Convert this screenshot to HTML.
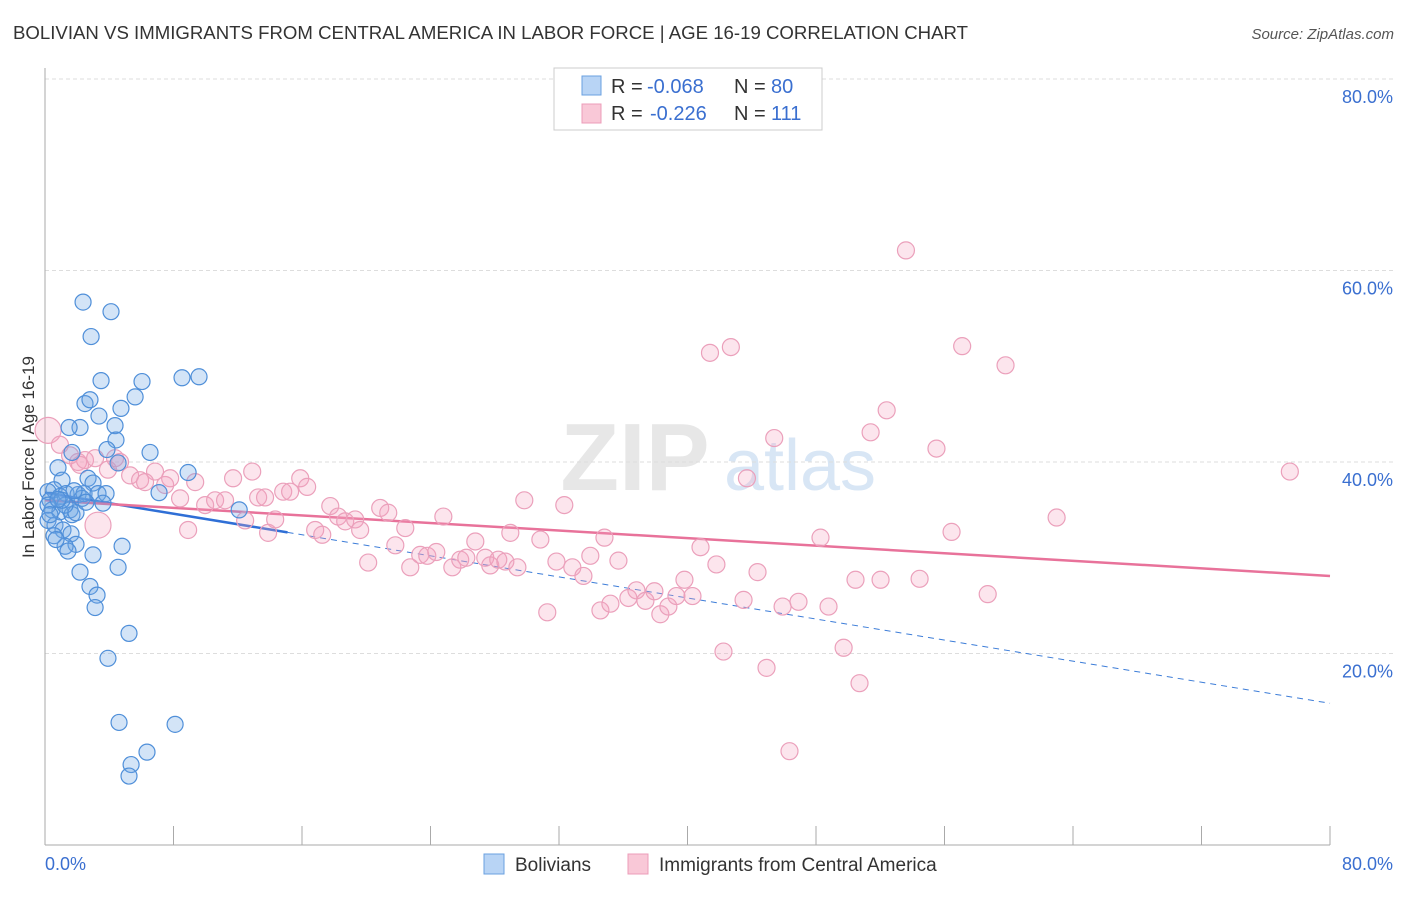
<!DOCTYPE html>
<html><head><meta charset="utf-8"><style>
body{margin:0;background:#fff;font-family:"Liberation Sans",sans-serif;}
svg text{font-family:"Liberation Sans",sans-serif;}
</style></head><body>
<svg id="chart" width="1406" height="892" xmlns="http://www.w3.org/2000/svg">
<text x="13" y="39" font-size="18" fill="#333" textLength="955" lengthAdjust="spacingAndGlyphs">BOLIVIAN VS IMMIGRANTS FROM CENTRAL AMERICA IN LABOR FORCE | AGE 16-19 CORRELATION CHART</text>
<text x="1394" y="39" font-size="15" fill="#555" text-anchor="end" font-style="italic">Source: ZipAtlas.com</text>
<g>
<text x="635" y="490" font-size="96" fill="#ddd" font-family="Liberation Serif" text-anchor="middle" font-weight="bold" opacity="0.7">ZIP</text>
<text x="800" y="490" font-size="72" fill="#cfe0f3" text-anchor="middle" opacity="0.8">atlas</text>
</g>
<g id="grid"></g>
<g id="axes"></g>
<g id="trends"></g>
<g id="points"></g>
<text transform="translate(34,457) rotate(-90)" font-size="17" fill="#333" text-anchor="middle">In Labor Force | Age 16-19</text>
<g>
<rect x="554" y="68" width="268" height="62" fill="#fff" stroke="#ccc"/>
<rect x="582" y="76" width="19" height="19" fill="#b8d4f5" stroke="#6aa0e0"/>
<rect x="582" y="104" width="19" height="19" fill="#f9c8d7" stroke="#ec9cb8"/>
<text x="611" y="93" font-size="20" fill="#333">R =</text>
<text x="647" y="93" font-size="20" fill="#3a6fd0">-0.068</text>
<text x="734" y="93" font-size="20" fill="#333">N =</text>
<text x="771" y="93" font-size="20" fill="#3a6fd0">80</text>
<text x="611" y="120" font-size="20" fill="#333">R =</text>
<text x="650" y="120" font-size="20" fill="#3a6fd0">-0.226</text>
<text x="734" y="120" font-size="20" fill="#333">N =</text>
<text x="771" y="120" font-size="20" fill="#3a6fd0">111</text>
</g>
<g>
<rect x="484" y="854" width="20" height="20" fill="#b8d4f5" stroke="#6aa0e0"/>
<text x="515" y="871" font-size="19" fill="#333">Bolivians</text>
<rect x="628" y="854" width="20" height="20" fill="#f9c8d7" stroke="#ec9cb8"/>
<text x="659" y="871" font-size="19" fill="#333">Immigrants from Central America</text>
</g>
</svg>
<script>
const yTicks=[20,40,60,80];
const yTickLabels=["20.0%","40.0%","60.0%","80.0%"];
const xTicks=[0,8,16,24,32,40,48,56,64,72,80];
const bolX=[2.37,4.11,2.87,3.49,6.04,8.53,9.59,5.61,4.73,2.49,2.80,3.36,2.18,1.50,4.36,4.42,6.54,3.86,1.68,0.81,8.91,4.55,1.06,2.68,2.99,0.56,0.93,0.19,0.31,1.31,2.06,2.30,2.43,3.30,3.80,3.61,7.10,0.44,0.93,1.56,1.68,1.93,1.25,0.19,0.62,1.12,1.62,1.93,1.25,1.43,2.99,4.80,4.55,2.18,2.80,3.24,3.12,12.09,5.23,3.92,4.61,8.10,6.35,5.36,5.23,0.56,0.69,1.06,0.19,0.31,0.81,2.55,1.81];
const bolY=[56.7,55.7,53.1,48.5,48.4,48.8,48.9,46.8,45.6,46.1,46.5,44.8,43.6,43.6,43.8,42.3,41.0,41.3,41.0,39.4,38.9,39.9,38.1,38.3,37.8,37.1,36.4,36.9,36.0,36.7,36.6,36.2,36.7,36.7,36.7,35.7,36.8,35.0,34.8,35.0,34.5,34.7,35.5,33.9,33.4,32.9,32.5,31.4,31.2,30.7,30.3,31.2,29.0,28.5,27.0,26.1,24.8,35.0,22.1,19.5,12.8,12.6,9.7,8.4,7.2,32.3,31.9,36.0,35.5,34.5,36.1,35.8,37.0];
const cenX=[53.6,57.1,42.7,41.4,59.8,52.4,51.4,45.4,55.5,77.5,43.7,0.19,0.93,1.56,2.06,2.49,3.12,3.92,4.67,5.30,5.92,6.85,7.48,7.79,8.41,8.91,9.35,9.97,10.59,11.21,11.71,12.46,12.90,13.27,13.89,14.33,14.83,15.26,15.89,16.32,16.82,17.26,17.76,18.25,18.69,19.31,19.62,20.12,20.87,21.37,21.81,22.43,22.74,23.36,23.80,24.36,24.80,25.36,25.85,26.23,26.79,27.41,27.72,28.22,28.66,28.97,29.41,29.84,30.84,31.27,31.84,32.33,32.83,33.52,33.95,34.58,34.83,35.20,35.70,36.32,36.82,37.38,37.94,38.31,38.81,39.31,39.81,40.31,40.81,41.80,42.24,43.49,44.36,44.92,45.92,46.35,46.91,48.28,48.78,49.72,50.46,50.71,52.02,54.45,56.44,58.69,62.98,3.30,2.18,4.36,6.23,13.70];
const cenY=[62.1,52.1,52.0,51.4,50.1,45.4,43.1,42.5,41.4,39.0,38.3,43.3,41.8,40.7,40.0,40.2,40.4,39.2,40.0,38.6,38.1,39.0,37.6,38.3,36.2,32.9,37.9,35.5,36.0,36.0,38.3,33.9,39.0,36.3,32.6,34.0,36.9,36.9,38.3,37.4,32.9,32.4,35.4,34.3,33.8,34.0,32.9,29.5,35.2,34.7,31.3,33.1,29.0,30.3,30.2,30.6,34.3,29.0,29.8,30.0,31.7,30.0,29.2,29.8,29.6,32.6,29.0,36.0,31.9,24.3,29.6,35.5,29.0,28.1,30.2,24.5,32.1,25.2,29.7,25.8,26.6,25.5,26.5,24.1,24.9,26.0,27.7,26.0,31.1,29.3,20.2,25.6,28.5,18.5,24.9,9.8,25.4,32.1,24.9,20.6,27.7,16.9,27.7,27.8,32.7,26.2,34.2,33.4,39.7,40.4,37.9,36.3];
const bolTrend=[36.8,14.8];
const bolSolidEnd=15.1;
const cenTrend=[36.0,28.1];

const NS="http://www.w3.org/2000/svg";
const X=v=>45+v/80*1285;
const Y=v=>845-v/20*191.5;
function mk(tag,attrs,parent){const e=document.createElementNS(NS,tag);for(const k in attrs)e.setAttribute(k,attrs[k]);parent.appendChild(e);return e;}
const grid=document.getElementById('grid'),axes=document.getElementById('axes'),tr=document.getElementById('trends'),pts=document.getElementById('points');
yTicks.forEach((t,i)=>{
 const l=mk('line',{x1:45,x2:1394,y1:Y(t),y2:Y(t),stroke:'#ddd','stroke-dasharray':'4,3'},grid);
 
 
 const tx=mk('text',{x:1393,y:Y(t)+24,'font-size':18,fill:'#3a6fd0','text-anchor':'end'},grid);
 tx.textContent=yTickLabels[i];
 
 
});
const ax=mk('line',{x1:45,x2:1330,y1:845,y2:845,stroke:'#aaa'},axes);


const ay=mk('line',{x1:45,x2:45,y1:68,y2:845,stroke:'#aaa'},axes);


xTicks.forEach(t=>{
 const l=mk('line',{x1:X(t),x2:X(t),y1:826,y2:845,stroke:'#aaa'},axes);
 
 
});
const xl0=mk('text',{x:45,y:870,'font-size':18,fill:'#3a6fd0'},axes);xl0.textContent='0.0%';


const xl1=mk('text',{x:1393,y:870,'font-size':18,fill:'#3a6fd0','text-anchor':'end'},axes);xl1.textContent='80.0%';


const by=x=>bolTrend[0]+(bolTrend[1]-bolTrend[0])*x/80;
const cy=x=>cenTrend[0]+(cenTrend[1]-cenTrend[0])*x/80;
let t1=mk('line',{x1:X(bolSolidEnd),y1:Y(by(bolSolidEnd)),x2:X(80),y2:Y(by(80)),stroke:'#3d7dd8','stroke-width':1,'stroke-dasharray':'6,5'},tr);


let t2=mk('line',{x1:X(0),y1:Y(by(0)),x2:X(bolSolidEnd),y2:Y(by(bolSolidEnd)),stroke:'#2f6fd6','stroke-width':2.5},tr);


let t3=mk('line',{x1:X(0),y1:Y(cy(0)),x2:X(80),y2:Y(cy(80)),stroke:'#e8729a','stroke-width':2.5},tr);


cenX.forEach((v,i)=>{
 const big=(i==11||i==107);
 const c=mk('circle',{cx:X(v),cy:Y(cenY[i]),r:big?13:8.5,fill:'rgba(244,160,190,0.28)',stroke:'#eba0bb','stroke-width':1.2},pts);
 
 
});
bolX.forEach((v,i)=>{
 const c=mk('circle',{cx:X(v),cy:Y(bolY[i]),r:8,fill:'rgba(110,165,230,0.3)',stroke:'#4f8fd9','stroke-width':1.2},pts);
 
 
});
</script>
</body></html>
